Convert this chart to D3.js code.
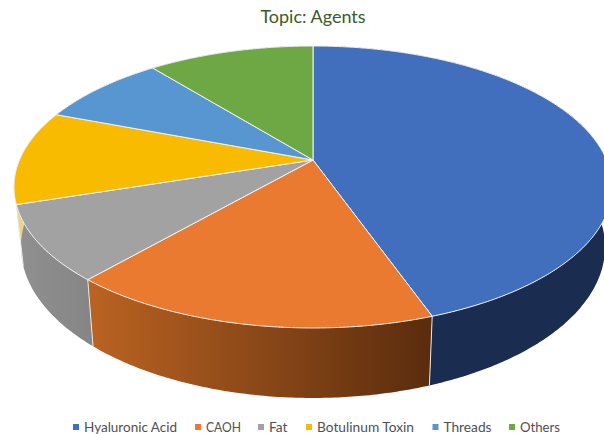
<!DOCTYPE html>
<html>
<head>
<meta charset="utf-8">
<script src="https://cdnjs.cloudflare.com/ajax/libs/d3/7.8.5/d3.min.js"></script>
<style>
  html, body { margin: 0; padding: 0; background: #fff; overflow: hidden; }
  text { font-family: Lato, "Open Sans", sans-serif; }
</style>
</head>
<body>
<div id="chart"></div>
<script>
  // data (percent of the pie)
  let labels = ["Hyaluronic Acid", "CAOH", "Fat", "Botulinum Toxin", "Threads", "Others"];
  let values = [44.6, 16.8, 8.6, 10.8, 8.4, 10.8];
  let topColors = ["#416fbe", "#e97a2f", "#a2a2a2", "#f9bb00", "#5896d1", "#6ea845"];
  let sideFrom = ["#1a2c4f", "#bb6322", "#909090", "#ead58a", "#35597c", "#41642a"];
  let sideTo = ["#1a2c4f", "#5a2c0d", "#858585", "#ead58a", "#35597c", "#41642a"];

  // legend slots: left edge of each marker and width of each label
  let legendStarts = [73, 195, 258, 306, 432.5, 509];
  let legendWidths = [93, 35, 18.5, 97, 48, 40];

  let width = 604;
  let height = 434;

  // top and bottom rim of the disc, both plain ellipses
  let cx = 313;
  let topRim = { cy: 187, rx: 299, ry: 141 };
  let bottomRim = { cy: 247, rx: 292, ry: 151 };

  // perspective of the top face: the pie centre sits above the ellipse centre
  let apexY = 160;
  let tilt = 0.1915;
  let depthY = 135.8;
  let depthX = 293.5;

  let svg = d3.select("#chart").append("svg")
    .attr("width", width)
    .attr("height", height)
    .style("display", "block");

  let defs = svg.append("defs");

  // angle on the real circle -> point on the top face
  function project(angle, r) {
    let u = r * Math.sin(angle);
    let v = -r * Math.cos(angle);
    let w = 1 - tilt * v;
    return [cx + depthX * u / w, apexY + depthY * v / w];
  }

  // same rim position, moved to the bottom ellipse
  function projectBottom(angle) {
    let p = project(angle, 1);
    let ex = (p[0] - cx) / topRim.rx;
    let ey = (p[1] - topRim.cy) / topRim.ry;
    return [cx + bottomRim.rx * ex, bottomRim.cy + bottomRim.ry * ey];
  }

  function rimAngles(d) {
    let n = Math.max(2, Math.ceil((d.endAngle - d.startAngle) / 0.01));
    return d3.range(n + 1).map(function(i) {
      return d.startAngle + (d.endAngle - d.startAngle) * i / n;
    });
  }

  let line = d3.line();
  let pie = d3.pie().sort(null).startAngle(0).endAngle(2 * Math.PI);
  let slices = pie(values);

  slices.forEach(function(d, i) {
    let grad = defs.append("linearGradient").attr("id", "side" + i);
    grad.append("stop").attr("offset", "0%").attr("stop-color", sideFrom[i]);
    grad.append("stop").attr("offset", "100%").attr("stop-color", sideTo[i]);
  });

  // sides first, the top face covers whatever is behind it
  svg.append("g").selectAll("path")
    .data(slices)
    .enter()
    .append("path")
    .attr("d", function(d) {
      let angles = rimAngles(d);
      let upper = angles.map(function(a) { return project(a, 1); });
      let lower = angles.map(projectBottom).reverse();
      return line(upper.concat(lower)) + "Z";
    })
    .style("fill", function(d, i) { return "url(#side" + i + ")"; });

  // seams between the side walls
  svg.append("g").selectAll("path")
    .data(slices)
    .enter()
    .append("path")
    .attr("d", function(d) {
      return line([project(d.startAngle, 1), projectBottom(d.startAngle)]);
    })
    .style("fill", "none")
    .style("stroke", "#e8e8e8")
    .style("stroke-width", 1)
    .style("display", function(d) { return Math.cos(d.startAngle) < -0.2 ? null : "none"; });

  // top face
  svg.append("g").selectAll("path")
    .data(slices)
    .enter()
    .append("path")
    .attr("d", function(d) {
      let rim = rimAngles(d).map(function(a) { return project(a, 1); });
      return line([project(0, 0)].concat(rim)) + "Z";
    })
    .style("fill", function(d, i) { return topColors[i]; })
    .style("stroke", "#f2f2f2")
    .style("stroke-width", 1)
    .style("stroke-linejoin", "round");

  svg.append("text")
    .attr("x", cx)
    .attr("y", 23)
    .attr("text-anchor", "middle")
    .style("font-size", "18px")
    .style("fill", "#3b5a2a")
    .text("Topic: Agents");

  // legend
  let legendY = 427;
  let legend = svg.append("g").attr("class", "legend");
  labels.forEach(function(label, i) {
    legend.append("rect")
      .attr("x", legendStarts[i])
      .attr("y", legendY - 3)
      .attr("width", 6)
      .attr("height", 6)
      .style("fill", topColors[i]);
    legend.append("text")
      .attr("x", legendStarts[i] + 11)
      .attr("y", legendY + 4.5)
      .attr("textLength", legendWidths[i])
      .attr("lengthAdjust", "spacingAndGlyphs")
      .style("font-size", "13.5px")
      .style("fill", "#505050")
      .text(label);
  });
</script>
</body>
</html>
